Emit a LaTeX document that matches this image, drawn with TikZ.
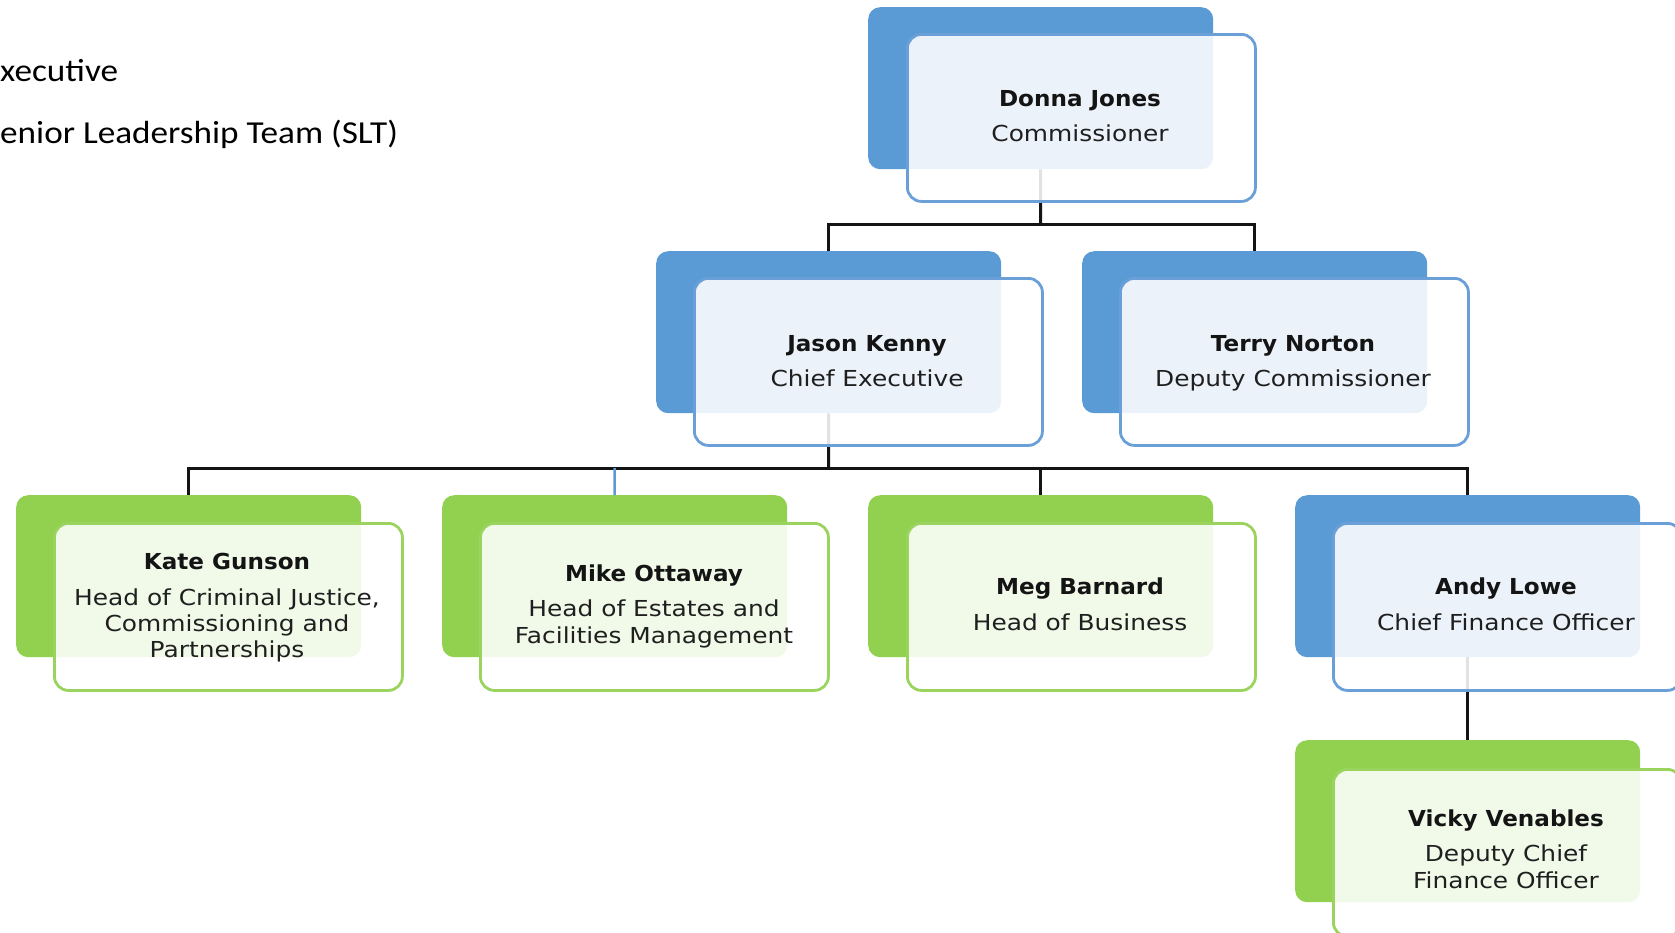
\documentclass[tikz,border=0pt]{standalone}
\usepackage{fontspec}
\setmainfont{Carlito}
\newfontfamily\titlefont[FakeStretch=1.13]{DejaVu Sans}
\newfontfamily\namefont[FakeStretch=1.05]{DejaVu Sans}
\newfontfamily\sidefont[FakeStretch=1.10]{Carlito}
\definecolor{cblue}{HTML}{5B9BD5}
\definecolor{cbluel}{HTML}{6A9FD8}
\definecolor{cgreen}{HTML}{92D050}
\definecolor{cgreenl}{HTML}{9AD35E}
\tikzset{
 back/.style={fill=#1, draw=none, rounded corners=12pt, minimum width=345pt, minimum height=162pt, inner sep=0pt, anchor=north west},
 front/.style={draw=#1, line width=2.8pt, fill=white, fill opacity=0.88, rounded corners=14pt, minimum width=348pt, minimum height=167pt, inner sep=0pt, anchor=north west},
 link/.style={draw=black!92, line width=3pt},
 nm/.style={anchor=base, inner sep=0pt, text=black!92, font=\namefont\bfseries\fontsize{22}{26}\selectfont},
 tt/.style={anchor=base, inner sep=0pt, text=black!88, font=\titlefont\fontsize{22}{26}\selectfont},
 side/.style={anchor=base west, inner sep=0pt, text=black, font=\sidefont\fontsize{32}{38}\selectfont},
}
\begin{document}
\begin{tikzpicture}[x=1pt,y=-1pt]
\useasboundingbox (0,0) rectangle (1675,932);
\clip (0,0) rectangle (1675,932);
% side text
\node[side] (l1) at (0,81) {xecutive};
\node[side] (l2) at (0,143) {enior Leadership Team (SLT)};
% back cards
\node[back=cblue] (dj-b) at (868,7) {};
\node[back=cblue] (jk-b) at (656,251) {};
\node[back=cblue] (tn-b) at (1082,251) {};
\node[back=cgreen] (kg-b) at (16,495) {};
\node[back=cgreen] (mo-b) at (442,495) {};
\node[back=cgreen] (mb-b) at (868,495) {};
\node[back=cblue] (al-b) at (1295,495) {};
\node[back=cgreen] (vv-b) at (1295,740) {};
% connectors
\coordinate (bus1) at (1040.5,224);
\draw[link] (dj-b.south) -- (bus1);
\draw[link] (jk-b.north) |- (bus1) -| (tn-b.north);
\coordinate (bus2) at (828.5,468);
\draw[link] (jk-b.south) -- (bus2);
\draw[link] (kg-b.north) |- (bus2) -| (al-b.north);
\draw[link] (bus2) -| (mb-b.north);
\coordinate (mdrop) at (614.5,468);
\draw[link, draw=cblue, line width=2.5pt] (mdrop) -- (mo-b.north);
\draw[link] (al-b.south) -- (vv-b.north);
% front cards
\node[front=cbluel] (dj-f) at (906,33) {};
\node[front=cbluel] (jk-f) at (693,277) {};
\node[front=cbluel] (tn-f) at (1119,277) {};
\node[front=cgreenl] (kg-f) at (53,522) {};
\node[front=cgreenl] (mo-f) at (479,522) {};
\node[front=cgreenl] (mb-f) at (906,522) {};
\node[front=cbluel] (al-f) at (1332,522) {};
\node[front=cgreenl] (vv-f) at (1332,768) {};
% texts
\node[nm] (dj-n) at (1080,106) {Donna Jones};
\node[tt] (dj-t) at (1080,141) {Commissioner};
\node[nm] (jk-n) at (867,351) {Jason Kenny};
\node[tt] (jk-t) at (867,386) {Chief Executive};
\node[nm] (tn-n) at (1293,351) {Terry Norton};
\node[tt] (tn-t) at (1293,386) {Deputy Commissioner};
\node[nm] (kg-n) at (227,569) {Kate Gunson};
\node[tt] (kg-t1) at (227,605) {Head of Criminal Justice,};
\node[tt] (kg-t2) at (227,631) {Commissioning and};
\node[tt] (kg-t3) at (227,657) {Partnerships};
\node[nm] (mo-n) at (654,581) {Mike Ottaway};
\node[tt] (mo-t1) at (654,616) {Head of Estates and};
\node[tt] (mo-t2) at (654,643) {Facilities Management};
\node[nm] (mb-n) at (1080,594) {Meg Barnard};
\node[tt] (mb-t) at (1080,630) {Head of Business};
\node[nm] (al-n) at (1506,594) {Andy Lowe};
\node[tt] (al-t) at (1506,630) {Chief Finance Officer};
\node[nm] (vv-n) at (1506,826) {Vicky Venables};
\node[tt] (vv-t1) at (1506,861) {Deputy Chief};
\node[tt] (vv-t2) at (1506,888) {Finance Officer};
\end{tikzpicture}
\end{document}
